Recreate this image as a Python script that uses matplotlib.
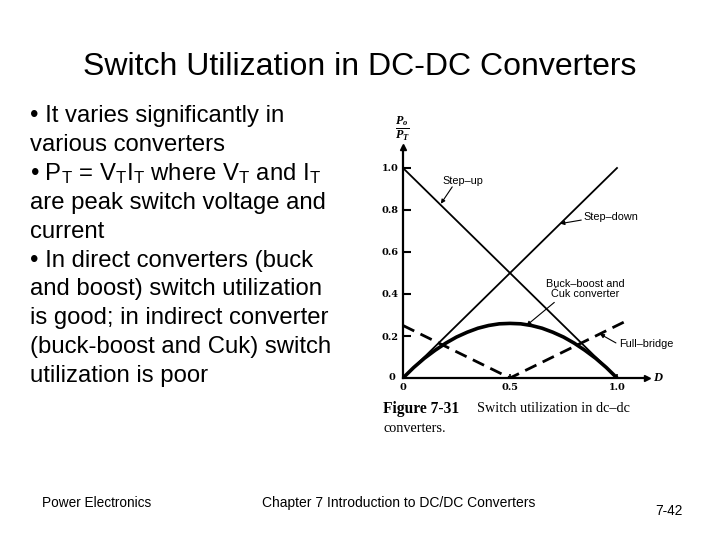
import numpy as np
import matplotlib
matplotlib.use("Agg")
import matplotlib.pyplot as plt

plt.rcParams['font.family'] = ['Liberation Sans', 'DejaVu Sans']
plt.rcParams['mathtext.fontset'] = 'custom'
plt.rcParams['mathtext.rm'] = 'Liberation Sans'
plt.rcParams['mathtext.it'] = 'Liberation Serif:italic:bold'
plt.rcParams['mathtext.default'] = 'regular'

# data
d_line = [0.0, 1.0]
step_up = [1.0, 0.0]
step_down = [0.0, 1.0]
bb_d = [0.0, 0.05, 0.1, 0.15, 0.2, 0.25, 0.3, 0.35, 0.4, 0.45, 0.5,
        0.55, 0.6, 0.65, 0.7, 0.75, 0.8, 0.85, 0.9, 0.95, 1.0]
bb_u = [0.0, 0.05, 0.094, 0.132, 0.166, 0.195, 0.218, 0.237, 0.25, 0.258, 0.26,
        0.258, 0.25, 0.237, 0.218, 0.195, 0.166, 0.132, 0.094, 0.05, 0.0]
fb_d = [0.0, 0.5, 1.04]
fb_u = [0.25, 0.0, 0.27]
yticks = [0.2, 0.4, 0.6, 0.8, 1.0]
ytick_labels = ['0.2', '0.4', '0.6', '0.8', '1.0']
xticks = [0.5, 1.0]
xtick_labels = ['0.5', '1.0']

bullets = [
    "• It varies significantly in",
    "various converters",
    "• P$_T$ = V$_T$I$_T$ where V$_T$ and I$_T$",
    "are peak switch voltage and",
    "current",
    "• In direct converters (buck",
    "and boost) switch utilization",
    "is good; in indirect converter",
    "(buck-boost and Cuk) switch",
    "utilization is poor",
]

W, H = 720, 540
fig = plt.figure(figsize=(7.2, 5.4), dpi=100)
fig.patch.set_facecolor('white')


def fx(px):
    return px / W


def fy(py):
    return 1 - py / H


fig.text(fx(360), fy(67), "Switch Utilization in DC-DC Converters",
         ha='center', va='center', fontsize=23)

for i, line in enumerate(bullets):
    fig.text(fx(30), fy(116 + i * 28.9), line, ha='left', va='center', fontsize=17.2)

fig.text(fx(42), fy(503), "Power Electronics", ha='left', va='center', fontsize=9.8)
fig.text(fx(262), fy(503), "Chapter 7 Introduction to DC/DC Converters",
         ha='left', va='center', fontsize=10)
fig.text(fx(655), fy(511), "7-42", ha='left', va='center', fontsize=9.8)

# chart axes: D=0 at x=403px, D=1 at 617px; 0 at y=378px, 1 at 168px
x0, x1 = 403, 617
y0, y1 = 378, 168
xend, yend = 647, 147
xmax = (xend - x0) / (x1 - x0)
ymax = (y0 - yend) / (y0 - y1)
ax = fig.add_axes([fx(x0), fy(y0), (xend - x0) / W, (y0 - yend) / H])
ax.set_xlim(0, xmax)
ax.set_ylim(0, ymax)
ax.patch.set_alpha(0)
for s in ['top', 'right']:
    ax.spines[s].set_visible(False)
ax.spines['left'].set_linewidth(1.6)
ax.spines['bottom'].set_linewidth(1.6)
ax.plot(1, 0, '>k', transform=ax.transAxes, clip_on=False, markersize=5)
ax.plot(0, 1, '^k', transform=ax.transAxes, clip_on=False, markersize=5)

ax.plot(d_line, step_up, color='black', lw=1.3)
ax.plot(d_line, step_down, color='black', lw=1.3)
ax.plot(bb_d, bb_u, color='black', lw=2.6)
ax.plot(fb_d, fb_u, color='black', lw=2.0, dashes=(4.5, 2.5))

tfont = dict(family='DejaVu Serif', fontsize=7, fontweight='bold')
ax.set_yticks(yticks)
ax.set_yticklabels(ytick_labels, **tfont)
ax.set_xticks(xticks)
ax.set_xticklabels(xtick_labels, **tfont)
ax.tick_params(axis='y', direction='in', length=6, width=1.5, pad=3)
ax.tick_params(axis='x', direction='in', length=3, width=1.2, pad=3.5)
ax.text(-0.035, 0.0, "0", ha='right', va='center', **tfont)
ax.text(0.0, -0.025, "0", ha='center', va='top', **tfont)
ax.text(xmax + 0.03, 0.0, "D", ha='left', va='center', family='Liberation Serif',
        fontsize=9, fontweight='bold', style='italic')
fig.text(fx(402), fy(129), r"$\frac{\mathit{P_o}}{\mathit{P_T}}$", ha='center', va='center',
         fontsize=12.5)

afont = dict(fontsize=7.8, color='black', family='Liberation Sans')
arrow = dict(arrowstyle='-|>', color='black', lw=0.8, mutation_scale=6, shrinkA=0, shrinkB=0)
ax.text(0.186, 0.94, "Step\u2013up", ha='left', va='center', **afont)
ax.annotate("", xy=(0.177, 0.83), xytext=(0.23, 0.91), arrowprops=arrow)
ax.text(0.842, 0.766, "Step\u2013down", ha='left', va='center', **afont)
ax.annotate("", xy=(0.735, 0.735), xytext=(0.833, 0.752), arrowprops=arrow)
ax.text(0.851, 0.424, "Buck\u2013boost and\n\u0106uk converter", ha='center', va='center',
        linespacing=0.95, **afont)
ax.annotate("", xy=(0.577, 0.25), xytext=(0.707, 0.36), arrowprops=arrow)
ax.text(1.01, 0.163, "Full\u2013bridge", ha='left', va='center', **afont)
ax.annotate("", xy=(0.92, 0.21), xytext=(0.995, 0.167), arrowprops=arrow)

cfont = dict(family='Liberation Serif', fontsize=10.3)
fig.text(fx(383), fy(409), "Figure 7-31", ha='left', va='center', fontweight='bold',
         fontsize=11.2, family='Liberation Serif')
fig.text(fx(477), fy(409), "Switch utilization in dc\u2013dc", ha='left', va='center', **cfont)
fig.text(fx(384), fy(428), "converters.", ha='left', va='center', **cfont)

fig.savefig("out.png", dpi=100)
